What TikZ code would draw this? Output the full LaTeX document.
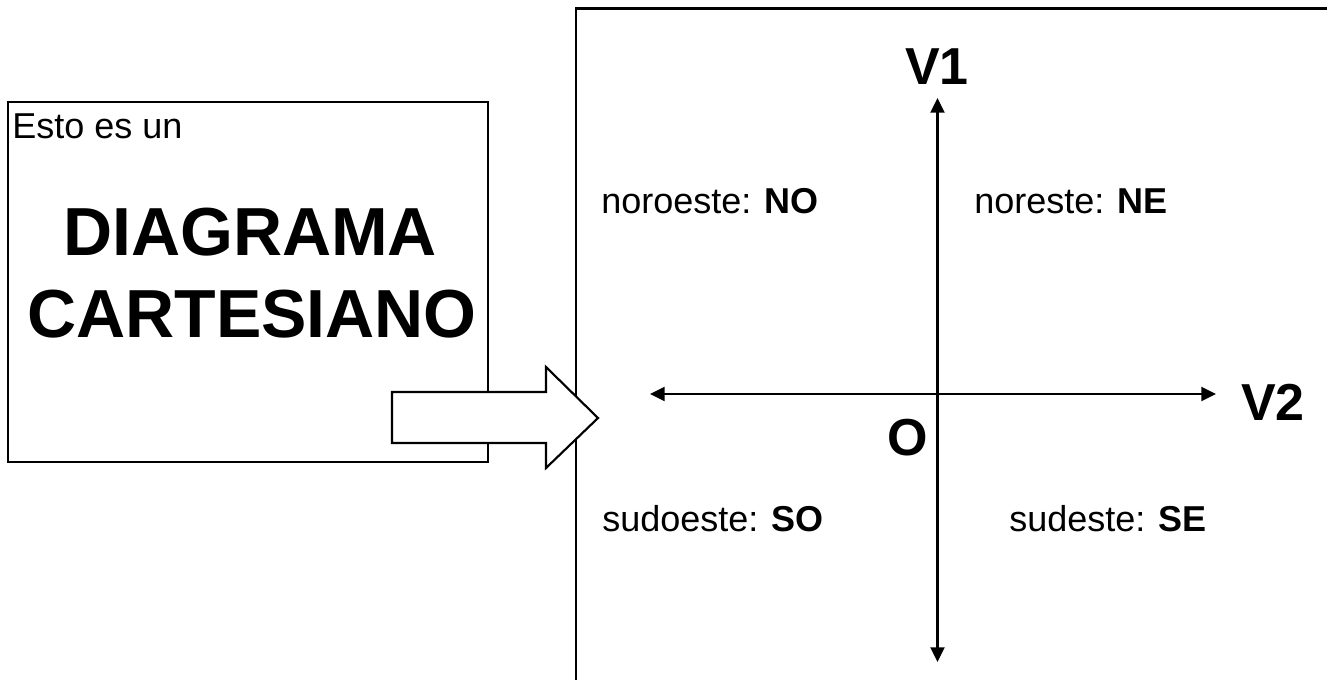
\documentclass[tikz,border=0pt]{standalone}
\usepackage{fontspec}
\setmainfont{Liberation Sans}
\usetikzlibrary{arrows.meta}
\tikzset{
  frame/.style={draw=black, line width=1.6pt},
  axis/.style={draw=black, line width=1.6pt, {Triangle[length=11pt,width=10.5pt]}-{Triangle[length=11pt,width=10.5pt]}},
  lbl/.style={inner sep=0pt, anchor=base west, font=\fontsize{27}{32}\selectfont},
  big/.style={inner sep=0pt, anchor=base, font=\fontsize{51}{60}\selectfont\bfseries},
  axlbl/.style={inner sep=0pt, anchor=base, font=\fontsize{39}{46}\selectfont\bfseries},
}
\begin{document}
\begin{tikzpicture}[x=0.75pt,y=-0.75pt]
\useasboundingbox (0,0) rectangle (1327,679);
\clip (0,0) rectangle (1327,679);
% left box
\draw[frame] (8,102) rectangle (488,462);
\node[lbl] (esto) at (12,138) {Esto es un};
\node[big] (diag) at (250,255) {DIAGRAMA};
\node[big] (cart) at (252,337) {CARTESIANO};
% right box (extends beyond the picture)
\draw[frame] (576,700) -- (576,8.5) -- (1340,8.5);
% axes
\coordinate (top) at (937.5,98);
\coordinate (bottom) at (937.5,662);
\coordinate (left) at (650,394);
\coordinate (right) at (1216,394);
\draw[axis] (bottom) -- (top);
\draw[axis] (left) -- (right);
\node[axlbl] (v1) at (937,84) {V1};
\node[axlbl] (v2) at (1273,420) {V2};
\node[axlbl] (o) at (908,455) {O};
% quadrant labels
\node[lbl] (no) at (601,213) {noroeste: \textbf{NO}};
\node[lbl] (ne) at (974,213) {noreste: \textbf{NE}};
\node[lbl] (so) at (602,531) {sudoeste: \textbf{SO}};
\node[lbl] (se) at (1009,531) {sudeste: \textbf{SE}};
% block arrow
\draw[line width=1.6pt, fill=white, line join=miter]
  (392,392) -- (546,392) -- (546,367) -- (598,418) -- (546,468) -- (546,443) -- (392,443) -- cycle;
\end{tikzpicture}
\end{document}
